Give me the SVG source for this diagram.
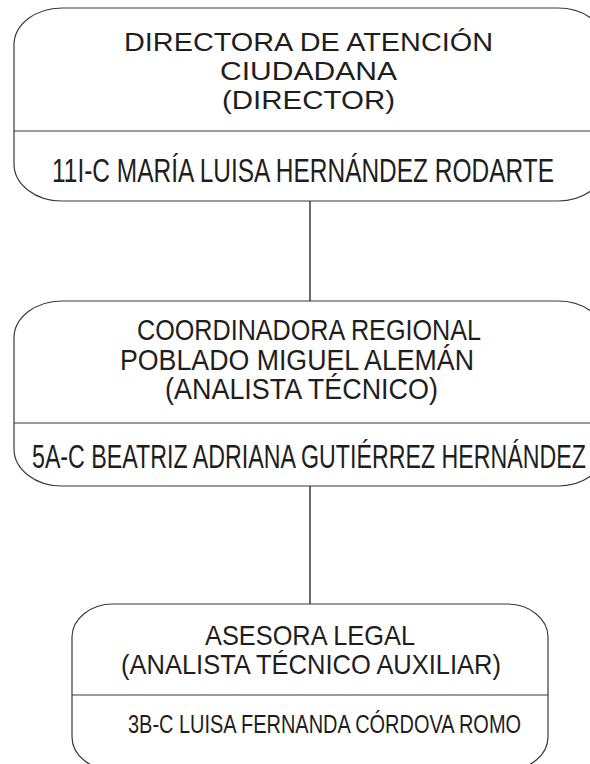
<svg xmlns="http://www.w3.org/2000/svg" width="590" height="764" viewBox="0 0 590 764">
<style>
.box{fill:#fff;stroke:#3a3a3a;stroke-width:1.2}
.div{stroke:#3a3a3a;stroke-width:1.2}
.conn{stroke:#3a3a3a;stroke-width:1.5;fill:none}
text{font-family:"Liberation Sans",Arial,sans-serif;fill:#1e1e1e}
</style>
<rect width="590" height="764" fill="#fff"/>
<g id="connectors">
<line class="conn" x1="310" y1="201" x2="310" y2="301"/>
<line class="conn" x1="310" y1="486" x2="310" y2="604"/>
</g>
<g id="node-director">
<path class="box" d="M62 8H558A48 37 0 0 1 606 45V164A48 37 0 0 1 558 201H62A48 37 0 0 1 14 164V45A48 37 0 0 1 62 8Z"/>
<line class="div" x1="14" y1="131" x2="606" y2="131"/>
<text x="124" y="51" font-size="25" textLength="369" lengthAdjust="spacingAndGlyphs">DIRECTORA DE ATENCIÓN</text>
<text x="220" y="80" font-size="25" textLength="177" lengthAdjust="spacingAndGlyphs">CIUDADANA</text>
<text x="222" y="109" font-size="25" textLength="173" lengthAdjust="spacingAndGlyphs">(DIRECTOR)</text>
<text x="52" y="132.4" font-size="24" transform="scale(1,1.375)" textLength="502" lengthAdjust="spacingAndGlyphs">11I-C MARÍA LUISA HERNÁNDEZ RODARTE</text>
</g>
<g id="node-coordinadora">
<path class="box" d="M62 301H558A48 37 0 0 1 606 338V449A48 37 0 0 1 558 486H62A48 37 0 0 1 14 449V338A48 37 0 0 1 62 301Z"/>
<line class="div" x1="14" y1="423" x2="606" y2="423"/>
<text x="137" y="340" font-size="29" textLength="344" lengthAdjust="spacingAndGlyphs">COORDINADORA REGIONAL</text>
<text x="120" y="370" font-size="29" textLength="354" lengthAdjust="spacingAndGlyphs">POBLADO MIGUEL ALEMÁN</text>
<text x="165" y="399" font-size="29" textLength="273" lengthAdjust="spacingAndGlyphs">(ANALISTA TÉCNICO)</text>
<text x="32" y="326.1" font-size="23" transform="scale(1,1.435)" textLength="554" lengthAdjust="spacingAndGlyphs">5A-C BEATRIZ ADRIANA GUTIÉRREZ HERNÁNDEZ</text>
</g>
<g id="node-asesora">
<path class="box" d="M113 604H507A41 33 0 0 1 548 637V737A41 33 0 0 1 507 770H113A41 33 0 0 1 72 737V637A41 33 0 0 1 113 604Z"/>
<line class="div" x1="72" y1="695" x2="548" y2="695"/>
<text x="205" y="645" font-size="28" textLength="210" lengthAdjust="spacingAndGlyphs">ASESORA LEGAL</text>
<text x="121" y="674" font-size="28" textLength="380" lengthAdjust="spacingAndGlyphs">(ANALISTA TÉCNICO AUXILIAR)</text>
<text x="128" y="572.7" font-size="19.5" transform="scale(1,1.28)" textLength="393" lengthAdjust="spacingAndGlyphs">3B-C LUISA FERNANDA CÓRDOVA ROMO</text>
</g>
</svg>
